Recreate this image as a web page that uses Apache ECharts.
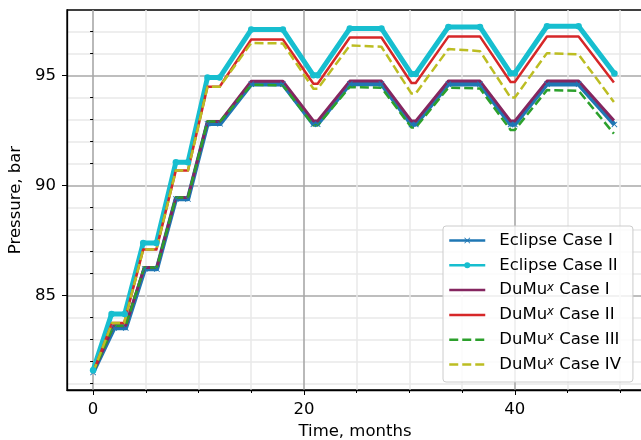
<!DOCTYPE html>
<html>
<head>
<meta charset="utf-8">
<script src="https://cdn.jsdelivr.net/npm/echarts@6/dist/echarts.min.js"></script>
<style>
  html, body { margin: 0; padding: 0; background: #fff; }
  #chart { width: 641px; height: 440px; }
</style>
</head>
<body>
<div id="chart"></div>
<script>
// Reservoir pressure over time for the gas storage cases.
// Each series: months and pressure (bar) at the schedule change points.

const eclipseCaseIMonths = [0, 2.0, 3.1, 4.9, 6.05, 7.85, 9.0, 10.85, 12.05, 15.0, 18.0, 20.9, 21.3, 24.35, 27.35, 30.2, 30.6, 33.7, 36.7, 39.6, 40.0, 43.05, 46.05, 49.45];
const eclipseCaseIBar    = [81.5, 83.52, 83.52, 86.2, 86.2, 89.38, 89.38, 92.8, 92.8, 94.6, 94.6, 92.78, 92.78, 94.61, 94.61, 92.77, 92.77, 94.6, 94.6, 92.77, 92.77, 94.6, 94.6, 92.77];

const eclipseCaseIIMonths = [0, 1.75, 3.0, 4.75, 6.0, 7.85, 9.0, 10.85, 12.0, 15.0, 18.0, 20.9, 21.3, 24.35, 27.35, 30.2, 30.6, 33.7, 36.7, 39.6, 40.0, 43.05, 46.05, 49.45];
const eclipseCaseIIBar    = [81.6, 84.15, 84.15, 87.38, 87.38, 91.05, 91.05, 94.9, 94.9, 97.08, 97.08, 95.0, 95.0, 97.13, 97.13, 95.06, 95.06, 97.2, 97.2, 95.1, 95.1, 97.23, 97.23, 95.08];

const dumuxCaseIMonths = [0, 1.95, 3.1, 4.85, 6.05, 7.85, 9.0, 10.85, 12.05, 15.0, 18.0, 20.9, 21.3, 24.35, 27.35, 30.2, 30.6, 33.7, 36.7, 39.6, 40.0, 43.05, 46.05, 49.4];
const dumuxCaseIBar    = [81.5, 83.62, 83.62, 86.27, 86.27, 89.45, 89.45, 92.9, 92.9, 94.73, 94.73, 92.93, 92.93, 94.74, 94.74, 92.92, 92.92, 94.74, 94.74, 92.92, 92.92, 94.74, 94.74, 92.95];

const dumuxCaseIIMonths = [0, 1.8, 2.95, 4.75, 6.0, 7.85, 9.0, 10.85, 12.0, 15.0, 18.0, 20.9, 21.3, 24.35, 27.35, 30.2, 30.6, 33.7, 36.7, 39.6, 40.0, 43.05, 46.05, 49.4];
const dumuxCaseIIBar    = [81.5, 83.75, 83.75, 87.08, 87.08, 90.68, 90.68, 94.48, 94.48, 96.63, 96.63, 94.62, 94.62, 96.72, 96.72, 94.65, 94.65, 96.76, 96.76, 94.7, 94.7, 96.77, 96.77, 94.68];

const dumuxCaseIIIMonths = [0, 1.95, 3.1, 4.85, 6.05, 7.85, 9.0, 10.85, 12.05, 15.0, 18.0, 20.9, 21.3, 24.35, 27.35, 30.2, 30.6, 33.7, 36.7, 39.6, 40.0, 43.05, 46.05, 49.4];
const dumuxCaseIIIBar    = [81.5, 83.62, 83.62, 86.27, 86.27, 89.45, 89.45, 92.9, 92.9, 94.57, 94.55, 92.73, 92.73, 94.47, 94.44, 92.63, 92.63, 94.44, 94.4, 92.52, 92.52, 94.33, 94.3, 92.35];

const dumuxCaseIVMonths = [0, 1.8, 2.95, 4.75, 6.0, 7.85, 9.0, 10.85, 12.0, 15.0, 18.0, 20.9, 21.3, 24.35, 27.35, 30.2, 30.6, 33.7, 36.7, 39.6, 40.0, 43.05, 46.05, 49.4];
const dumuxCaseIVBar    = [81.5, 83.75, 83.75, 87.08, 87.08, 90.68, 90.68, 94.48, 94.48, 96.47, 96.45, 94.39, 94.39, 96.36, 96.3, 94.17, 94.17, 96.2, 96.1, 93.99, 93.99, 96.01, 95.95, 93.79];

// Axis ticks
const xMajorTicks = [0, 20, 40];
const xMinorTicks = [5, 10, 15, 25, 30, 35, 45, 50];
const yMajorTicks = [85, 90, 95];
const yMinorTicks = [81, 82, 83, 84, 86, 87, 88, 89, 91, 92, 93, 94, 96, 97];

const FONT = 'DejaVu Sans';
const FONT_SIZE = 16.5;
// the plot runs a little past the right edge of the canvas
const X_RANGE = [-2.475, 52.16];
const Y_RANGE = [80.7, 97.97];

const pairs = (xs, ys) => xs.map((x, i) => [x, ys[i]]);

// small filled "x" marker
const X_MARK = 'path://M1,0 L5,4 L9,0 L10,1 L6,5 L10,9 L9,10 L5,6 L1,10 L0,9 L4,5 L0,1 Z';

const minorGrid = { show: true, lineStyle: { color: '#e8e8e8', width: 1.5 } };
const majorGrid = { show: true, lineStyle: { color: '#a8a8a8', width: 1.6 } };
const tickLine = { color: '#000', width: 1 };
const labelStyle = { fontFamily: FONT, fontSize: FONT_SIZE, color: '#000' };

function lineSeries(name, xs, ys, color, width, opts) {
  return Object.assign({
    name: name,
    type: 'line',
    data: pairs(xs, ys),
    symbol: 'none',
    showSymbol: false,
    animation: false,
    lineStyle: { color: color, width: width, join: 'round' },
    itemStyle: { color: color },
    emphasis: { disabled: true }
  }, opts || {});
}

const chart = echarts.init(document.getElementById('chart'), null, { renderer: 'canvas' });

chart.setOption({
  animation: false,
  backgroundColor: '#ffffff',
  grid: {
    left: 67, right: -2, top: 10, bottom: 50,
    show: true, borderColor: '#000', borderWidth: 1.3,
    backgroundColor: 'transparent',
    outerBoundsMode: 'none'
  },
  xAxis: [
    {
      type: 'value', min: X_RANGE[0], max: X_RANGE[1], position: 'bottom',
      axisLine: { show: false },
      axisTick: { show: true, length: 3, lineStyle: tickLine, customValues: xMinorTicks },
      axisLabel: { show: false, customValues: xMinorTicks },
      splitLine: minorGrid
    },
    {
      type: 'value', min: X_RANGE[0], max: X_RANGE[1], position: 'bottom',
      axisLine: { show: true, onZero: false, lineStyle: { color: '#000', width: 1.3 } },
      axisTick: { show: true, length: 5, lineStyle: tickLine, customValues: xMajorTicks },
      axisLabel: Object.assign({ customValues: xMajorTicks, margin: 11 }, labelStyle),
      splitLine: majorGrid,
      name: 'Time, months', nameLocation: 'middle', nameGap: 32,
      nameTextStyle: labelStyle
    }
  ],
  yAxis: [
    {
      type: 'value', min: Y_RANGE[0], max: Y_RANGE[1], position: 'left',
      axisLine: { show: false },
      axisTick: { show: true, length: 3, lineStyle: tickLine, customValues: yMinorTicks },
      axisLabel: { show: false, customValues: yMinorTicks },
      splitLine: minorGrid
    },
    {
      type: 'value', min: Y_RANGE[0], max: Y_RANGE[1], position: 'left',
      axisLine: { show: true, onZero: false, lineStyle: { color: '#000', width: 1.3 } },
      axisTick: { show: true, length: 5, lineStyle: tickLine, customValues: yMajorTicks },
      axisLabel: Object.assign({ customValues: yMajorTicks, margin: 11 }, labelStyle),
      splitLine: majorGrid,
      name: 'Pressure, bar', nameLocation: 'middle', nameGap: 40,
      nameTextStyle: labelStyle
    }
  ],
  legend: {
    orient: 'vertical',
    left: 443, top: 226,
    itemWidth: 36, itemHeight: 7.5, itemGap: 7.8,
    padding: [6, 12, 9, 5],
    backgroundColor: 'rgba(255,255,255,0.8)',
    borderColor: '#cccccc', borderWidth: 1, borderRadius: 3,
    selectedMode: false,
    lineStyle: { width: 2.5 },
    formatter: name => name.replace('DuMux', 'DuMu{sup|x}'),
    textStyle: {
      fontFamily: FONT, fontSize: FONT_SIZE, color: '#000', lineHeight: 17,
      padding: [0, 0, 0, 9],
      rich: {
        sup: { fontFamily: FONT, fontSize: 11.5, fontStyle: 'italic', color: '#000', verticalAlign: 'top', lineHeight: 12 }
      }
    },
    data: [
      { name: 'Eclipse Case I' },
      { name: 'Eclipse Case II' },
      { name: 'DuMux Case I', itemStyle: { opacity: 0 } },
      { name: 'DuMux Case II', itemStyle: { opacity: 0 } },
      { name: 'DuMux Case III', itemStyle: { opacity: 0 } },
      { name: 'DuMux Case IV', itemStyle: { opacity: 0 } }
    ]
  },
  series: [
    lineSeries('Eclipse Case I', eclipseCaseIMonths, eclipseCaseIBar, '#1f77b4', 4.5,
      { symbol: X_MARK, symbolSize: 6, showSymbol: true }),
    lineSeries('Eclipse Case II', eclipseCaseIIMonths, eclipseCaseIIBar, '#17becf', 5,
      { symbol: 'circle', symbolSize: 6.5, showSymbol: true }),
    lineSeries('DuMux Case I', dumuxCaseIMonths, dumuxCaseIBar, '#852660', 3),
    lineSeries('DuMux Case II', dumuxCaseIIMonths, dumuxCaseIIBar, '#d62728', 2.5),
    lineSeries('DuMux Case III', dumuxCaseIIIMonths, dumuxCaseIIIBar, '#2ca02c', 2.5,
      { lineStyle: { color: '#2ca02c', width: 2.5, type: [9, 4], join: 'round' } }),
    lineSeries('DuMux Case IV', dumuxCaseIVMonths, dumuxCaseIVBar, '#bcbd22', 2.5,
      { lineStyle: { color: '#bcbd22', width: 2.5, type: [9, 4], join: 'round' } })
  ]
});
</script>
</body>
</html>
